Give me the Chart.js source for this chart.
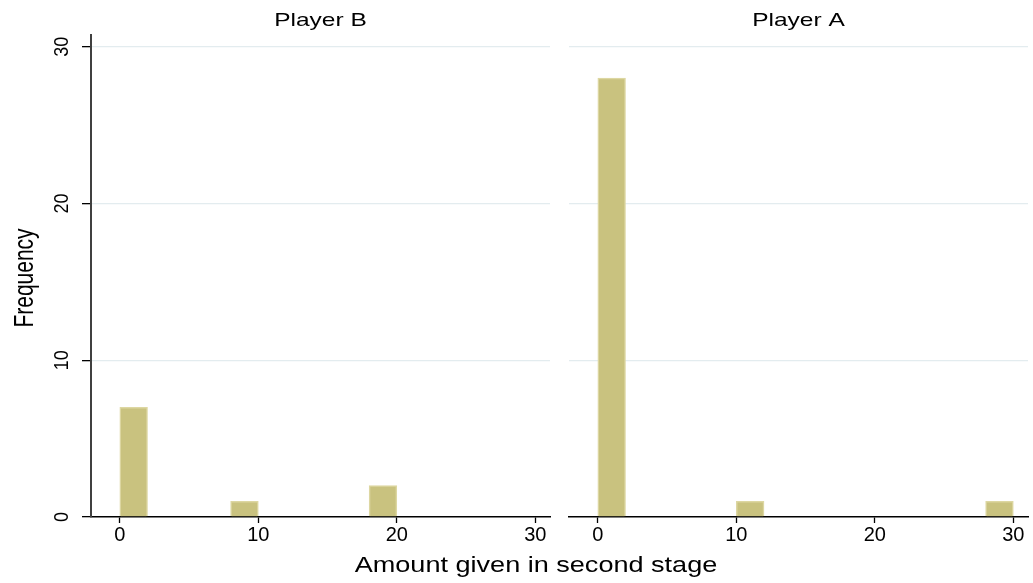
<!DOCTYPE html>
<html>
<head>
<meta charset="utf-8">
<script src="https://cdn.jsdelivr.net/npm/chart.js@4"></script>
<style>
  html, body { margin: 0; padding: 0; background: #fff; }
  #wrap { position: relative; width: 1033px; height: 583px; overflow: hidden; background: #fff; }
  #wrap canvas { position: absolute; left: 0; top: 0; }
</style>
</head>
<body>
<div id="wrap">
  <canvas id="panelB" width="1033" height="583"></canvas>
  <canvas id="panelA" width="1033" height="583"></canvas>
</div>
<script>
// Histogram bins of width 2 (centres), and frequencies per bin
const binCenters = [1, 3, 5, 7, 9, 11, 13, 15, 17, 19, 21, 23, 25, 27, 29];
const countsPlayerB = [7, 0, 0, 0, 1, 0, 0, 0, 0, 2, 0, 0, 0, 0, 0];
const countsPlayerA = [28, 0, 0, 0, 0, 1, 0, 0, 0, 0, 0, 0, 0, 0, 1];
const xTickValues = [0, 10, 20, 30];
const yTickValues = [0, 10, 20, 30];
const panelTitles = ['Player B', 'Player A'];
const xAxisTitle = 'Amount given in second stage';
const yAxisTitle = 'Frequency';

const FONT = "'Liberation Sans', Arial, Helvetica, sans-serif";
const BAR_FILL = '#c9c27f';
const BAR_EDGE = '#ddd7a2';
const GRID = '#e3ecef';

function toPoints(counts) {
  return binCenters.map((c, i) => ({ x: c, y: counts[i] > 0 ? counts[i] : null }));
}

function drawLabel(ctx, text, x, y, o) {
  ctx.save();
  ctx.translate(x, y);
  if (o.rotate) ctx.rotate(o.rotate);
  ctx.scale(o.sx || 1, o.sy || 1);
  ctx.font = o.size + 'px ' + FONT;
  ctx.fillStyle = '#000';
  ctx.textAlign = 'center';
  ctx.textBaseline = o.baseline || 'alphabetic';
  ctx.fillText(text, 0, 0);
  ctx.restore();
}

// Panel title, rotated y labels and the shared x title
const panelLabels = {
  id: 'panelLabels',
  afterDraw(chart, args, opts) {
    const ctx = chart.ctx;
    const a = chart.chartArea;
    drawLabel(ctx, opts.title, (a.left + a.right) / 2, 26, { size: 19, sx: 1.29 });
    if (opts.yAxis) {
      const ys = chart.scales.y;
      yTickValues.forEach(v => {
        drawLabel(ctx, String(v), 68, ys.getPixelForValue(v), { size: 18, rotate: -Math.PI / 2, sy: 1.1 });
      });
      drawLabel(ctx, yAxisTitle, 33, 278, { size: 21, rotate: -Math.PI / 2, sy: 1.3 });
    }
    if (opts.xTitle) {
      drawLabel(ctx, xAxisTitle, 536, 572, { size: 22, sx: 1.23 });
    }
  }
};

function makePanel(canvasId, title, counts, isLeft) {
  return new Chart(document.getElementById(canvasId), {
    type: 'bar',
    data: {
      datasets: [{
        data: toPoints(counts),
        backgroundColor: BAR_FILL,
        borderColor: BAR_EDGE,
        borderWidth: 1.5,
        categoryPercentage: 1.0,
        barPercentage: 1.0
      }]
    },
    options: {
      responsive: false,
      animation: false,
      devicePixelRatio: 1,
      layout: {
        padding: isLeft ? { left: 0, right: 483, top: 35, bottom: 0 }
                        : { left: 569, right: 5, top: 35, bottom: 0 }
      },
      plugins: {
        legend: { display: false },
        tooltip: { enabled: false },
        panelLabels: { title: title, yAxis: isLeft, xTitle: !isLeft }
      },
      scales: {
        x: {
          type: 'linear',
          offset: false,
          min: -2.08,
          max: 31.06,
          afterBuildTicks: s => { s.ticks = xTickValues.map(v => ({ value: v })); },
          afterFit: s => { s.height = 66; },
          grid: {
            display: true,
            offset: false,
            drawOnChartArea: false,
            drawTicks: true,
            tickLength: 6,
            tickColor: '#000',
            tickWidth: 1.3
          },
          border: { display: true, color: '#000', width: 1.5 },
          ticks: {
            autoSkip: false,
            maxRotation: 0,
            padding: 0,
            color: '#000',
            font: { family: FONT, size: 20 },
            callback: v => String(v)
          }
        },
        y: {
          type: 'linear',
          min: 0,
          max: 30.75,
          afterBuildTicks: s => { s.ticks = yTickValues.map(v => ({ value: v })); },
          afterFit: s => { s.width = isLeft ? 91 : 0; },
          grid: {
            color: c => (c.tick && c.tick.value === 0) ? 'rgba(0,0,0,0)' : GRID,
            lineWidth: 1.3,
            drawTicks: isLeft,
            tickLength: 9,
            tickColor: '#000',
            tickWidth: 1.3
          },
          border: { display: isLeft, color: '#404040', width: 2 },
          ticks: { display: false }
        }
      }
    },
    plugins: [panelLabels]
  });
}

makePanel('panelB', panelTitles[0], countsPlayerB, true);
makePanel('panelA', panelTitles[1], countsPlayerA, false);
</script>
</body>
</html>
